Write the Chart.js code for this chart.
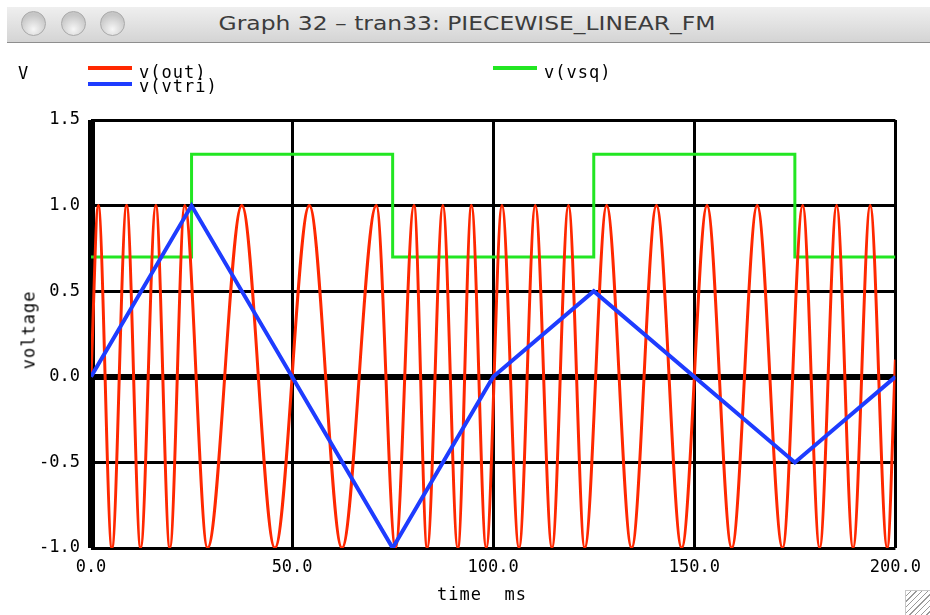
<!DOCTYPE html>
<html>
<head>
<meta charset="utf-8">
<script src="https://cdn.jsdelivr.net/npm/chart.js@4.4.0/dist/chart.umd.min.js"></script>
<style>
  body { margin: 0; width: 930px; height: 615px; overflow: hidden; position: relative; background: #fff; }
  #plot { position: absolute; left: 0; top: 0; }
  #bar { position: absolute; left: 7px; top: 7px; width: 923px; height: 35px;
         background: linear-gradient(#efefef, #d4d4d4); border-bottom: 1px solid #8e8e8e; }
  .dot { position: absolute; top: 4px; width: 25px; height: 25px; border-radius: 50%; box-sizing: border-box;
         border: 1px solid #a9a9a9; background: radial-gradient(circle at 50% 75%, #f6f6f6, #c6c6c6 70%); }
  #title { position: absolute; left: 467px; top: 23px; transform: translate(-50%, -50%) scaleX(1.17); white-space: nowrap;
           font-family: "DejaVu Sans", sans-serif; font-size: 20px; color: #3c3c3c; }
  .lbl { position: absolute; font-family: "DejaVu Sans Mono", monospace; font-size: 17px; color: #000;
         line-height: 1; white-space: pre; letter-spacing: 1px; transform: translateY(-50%); }
  .key { position: absolute; height: 4px; width: 44px; }
  #grip { position: absolute; left: 905px; top: 590px; width: 25px; height: 25px; box-sizing: border-box;
          border-left: 1px solid #c8c8c8; border-top: 1px solid #c8c8c8;
          background: repeating-linear-gradient(135deg, transparent 0 3px, #9a9a9a 3px 4px); }
</style>
</head>
<body>
<canvas id="plot" width="930" height="615"></canvas>
<div id="bar">
  <div class="dot" style="left:14px"></div>
  <div class="dot" style="left:54px"></div>
  <div class="dot" style="left:93px"></div>
</div>
<div id="title">Graph 32 – tran33: PIECEWISE_LINEAR_FM</div>
<div class="lbl" style="left:18px;top:73px">V</div>
<div class="key" style="left:88px;top:66px;background:#ff2800"></div>
<div class="lbl" style="left:139px;top:72px">v(out)</div>
<div class="key" style="left:88px;top:82px;background:#1e3cff"></div>
<div class="lbl" style="left:139px;top:86px">v(vtri)</div>
<div class="key" style="left:493px;top:66px;background:#22e622"></div>
<div class="lbl" style="left:544px;top:72px">v(vsq)</div>
<div class="lbl" style="left:482px;top:594px;transform:translate(-50%,-50%)">time  ms</div>
<div class="lbl" style="left:29px;top:330px;transform:translate(-50%,-50%) rotate(-90deg)">voltage</div>
<div id="grip"></div>
<script>
// v(out): times (ms) of the zero start, each peak / trough, and the end
const outTimes = [0, 1.81, 5.2, 8.85, 12.34, 16.11, 19.6, 23.3, 28.97, 37.5, 45.72, 54.28, 62.4, 70.95,
  75.71, 80.3, 83.59, 87.48, 91.2, 94.6, 98.27, 102.18, 106.42, 110.46, 114.62, 118.71, 122.75, 128.2,
  134.42, 140.59, 146.86, 153.16, 159.31, 165.63, 171.95, 176.95, 181.16, 185.38, 189.47, 193.73, 197.97, 200];
const outValues = [0, 1, -1, 1, -1, 1, -1, 1, -1, 1, -1, 1, -1, 1,
  -1, 1, -1, 1, -1, 1, -1, 1, -1, 1, -1, 1, -1, 1,
  -1, 1, -1, 1, -1, 1, -1, 1, -1, 1, -1, 1, -1, 0.1];

const vtriTimes = [0, 25, 75, 100, 125, 175, 200];
const vtriValues = [0, 1, -1, 0, 0.5, -0.5, 0];

const vsqTimes = [0, 25, 75, 125, 175, 200];
const vsqValues = [0.7, 1.3, 0.7, 1.3, 0.7, 0.7];

const timeTicks = [0, 50, 100, 150, 200];
const voltTicks = [-1, -0.5, 0, 0.5, 1, 1.5];

function pts(xs, ys) {
  return xs.map((x, i) => ({ x: x, y: ys[i] }));
}

const tickFont = { family: 'DejaVu Sans Mono', size: 17 };

new Chart(document.getElementById('plot'), {
  type: 'line',
  data: {
    datasets: [
      { label: 'v(vtri)', data: pts(vtriTimes, vtriValues), borderColor: '#1e3cff', borderWidth: 4, tension: 0 },
      { label: 'v(out)', data: pts(outTimes, outValues), borderColor: '#ff2800', borderWidth: 3,
        cubicInterpolationMode: 'monotone' },
      { label: 'v(vsq)', data: pts(vsqTimes, vsqValues), borderColor: '#22e622', borderWidth: 3, stepped: 'before' }
    ]
  },
  options: {
    responsive: false,
    animation: false,
    events: [],
    elements: { point: { radius: 0 } },
    layout: { padding: { top: 120, right: 32, left: 0, bottom: 0 } },
    plugins: { legend: { display: false }, tooltip: { enabled: false } },
    scales: {
      x: {
        type: 'linear', min: 0, max: 200,
        afterBuildTicks: s => { s.ticks = timeTicks.map(v => ({ value: v })); },
        afterFit: s => { s.height = 67; },
        ticks: { color: '#000', font: tickFont, padding: 9, maxRotation: 0, callback: v => v.toFixed(1) },
        grid: { color: '#000', drawTicks: false, lineWidth: c => (c.tick && c.tick.value === 0 ? 7 : 3) },
        border: { display: false }
      },
      y: {
        min: -1, max: 1.5,
        afterBuildTicks: s => { s.ticks = voltTicks.map(v => ({ value: v })); },
        afterFit: s => { s.width = 91; },
        ticks: { color: '#000', font: tickFont, padding: 11, callback: v => v.toFixed(1) },
        grid: { color: '#000', drawTicks: false, lineWidth: c => (c.tick && c.tick.value === 0 ? 6 : 3) },
        border: { display: false }
      }
    }
  }
});
</script>
</body>
</html>
